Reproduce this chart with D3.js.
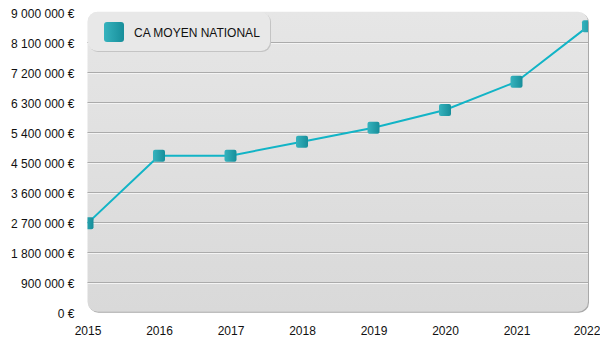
<!DOCTYPE html>
<html><head><meta charset="utf-8">
<script src="https://cdn.jsdelivr.net/npm/d3@7"></script>
<style>body{margin:0;background:#fff}svg{display:block}text{font-family:"Liberation Sans",Arial,sans-serif}</style>
</head><body><svg width="600" height="350"></svg>
<script>
const years = ["2015","2016","2017","2018","2019","2020","2021","2022"];
const caMoyen = [2650000, 4680000, 4680000, 5100000, 5520000, 6050000, 6900000, 8560000];
const yTicks = [0, 900000, 1800000, 2700000, 3600000, 4500000, 5400000, 6300000, 7200000, 8100000, 9000000];
const seriesName = "CA MOYEN NATIONAL";

const svg = d3.select("svg");
const L = 87.5, R = 588, T = 11.7, B = 311.7;
const x = d3.scalePoint().domain(years).range([L, R]);
const y = d3.scaleLinear().domain([0, 9000000]).range([B, T]);
const fmt = v => d3.format(",")(v).replace(/,/g, " ") + " €";

const defs = svg.append("defs");
const bg = defs.append("linearGradient").attr("id","bg").attr("x1",0).attr("y1",0).attr("x2",0).attr("y2",1);
bg.append("stop").attr("offset","0%").attr("stop-color","#e6e6e6");
bg.append("stop").attr("offset","100%").attr("stop-color","#d9d9d9");
const mk = defs.append("linearGradient").attr("id","mk").attr("x1",0).attr("y1",0).attr("x2",1).attr("y2",0);
mk.append("stop").attr("offset","0%").attr("stop-color","#36b3be");
mk.append("stop").attr("offset","100%").attr("stop-color","#178e9a");
defs.append("clipPath").attr("id","clip").append("rect").attr("x",L).attr("y",T-2).attr("width",R-L).attr("height",B-T+4);

// plot background with shadow
svg.append("rect").attr("x",L+1).attr("y",T+1).attr("width",R-L).attr("height",B-T).attr("rx",10).attr("fill","#a9a9a9");
svg.append("rect").attr("x",L).attr("y",T).attr("width",R-L).attr("height",B-T).attr("rx",10).attr("fill","url(#bg)");

// gridlines
const grid = svg.append("g");
yTicks.filter(v => v > 0 && v < 9000000).forEach(v => {
  grid.append("line").attr("x1",L).attr("x2",R).attr("y1",Math.round(y(v))+0.5).attr("y2",Math.round(y(v))+0.5).attr("stroke","#ababab");
  grid.append("line").attr("x1",L).attr("x2",R).attr("y1",Math.round(y(v))+1.5).attr("y2",Math.round(y(v))+1.5).attr("stroke","#f4f4f4");
});

// y axis labels
const yAxis = d3.axisLeft(y).tickValues(yTicks).tickFormat(fmt).tickSize(0).tickPadding(13);
const ya = svg.append("g").attr("transform",`translate(${L},1.5)`).call(yAxis);
ya.select(".domain").remove();
ya.selectAll("text").attr("font-size",12).attr("fill","#111").style("font-family",'"Liberation Sans",Arial,sans-serif');

// x axis labels
const xAxis = d3.axisBottom(x).tickSize(0).tickPadding(15);
const xa = svg.append("g").attr("transform",`translate(0,${B})`).call(xAxis);
xa.select(".domain").remove();
xa.selectAll("text").attr("font-size",12).attr("fill","#111").style("font-family",'"Liberation Sans",Arial,sans-serif');
xa.selectAll(".tick").filter(d => d === years[years.length-1]).select("text").attr("dx",-1.5);

// line and markers
const g = svg.append("g").attr("clip-path","url(#clip)");
g.append("path").datum(caMoyen).attr("fill","none").attr("stroke","#12b4c6").attr("stroke-width",2)
  .attr("d", d3.line().x((d,i) => x(years[i])).y(d => y(d)));
g.selectAll(".m").data(caMoyen).join("rect").attr("class","m")
  .attr("x",(d,i) => x(years[i]) - 6).attr("y", d => y(d) - 6).attr("width",12).attr("height",12).attr("rx",2)
  .attr("fill","url(#mk)");

// legend
const lg = svg.append("g");
lg.append("rect").attr("x",89).attr("y",13).attr("width",182).attr("height",39).attr("rx",9).attr("fill","#c4c4c4");
lg.append("rect").attr("x",88).attr("y",12).attr("width",182).attr("height",39).attr("rx",9).attr("fill","#e8e8e8");
lg.append("rect").attr("x",104).attr("y",22).attr("width",20).attr("height",20).attr("rx",3).attr("fill","url(#mk)");
lg.append("text").attr("x",134).attr("y",36.5).attr("font-size",12).attr("fill","#111").text(seriesName);
</script></body></html>
